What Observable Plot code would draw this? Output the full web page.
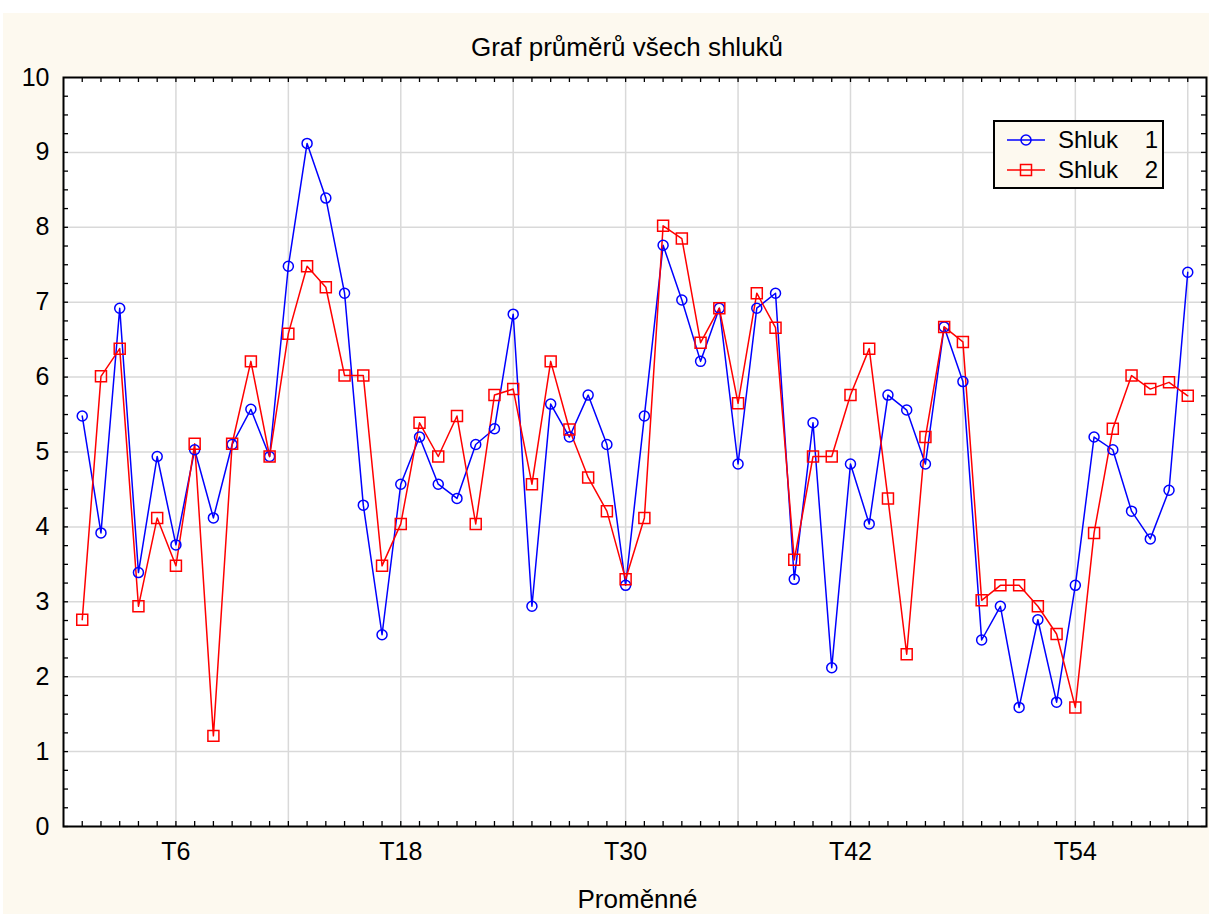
<!DOCTYPE html>
<html>
<head>
<meta charset="utf-8">
<script src="https://cdn.jsdelivr.net/npm/d3@7"></script>
<script src="https://cdn.jsdelivr.net/npm/@observablehq/plot@0.6"></script>
<style>
  body { margin: 0; background: #ffffff; font-family: "Liberation Sans", Arial, sans-serif; }
  #wrap { position: relative; width: 1209px; height: 915px; overflow: hidden; }
  #bg { position: absolute; left: 3px; top: 13px; width: 1206px; height: 901px; background: #fdf9ef; }
  #chart { position: absolute; left: 0; top: 0; }
  #title { position: absolute; left: 0; width: 1254px; top: 34px; text-align: center; font-size: 26px; line-height: 26px; color: #000; white-space: nowrap; }
  #xlabel { position: absolute; left: 0; width: 1275px; top: 886px; text-align: center; font-size: 26px; line-height: 26px; color: #000; white-space: nowrap; }
  #legend { position: absolute; left: 993px; top: 120px; width: 171px; height: 69px; box-sizing: border-box; border: 2.5px solid #000; background: #fdf9ef; }
  .row { position: absolute; left: 0; width: 100%; height: 30px; font-size: 24px; line-height: 30px; color: #000; }
  .row svg { position: absolute; left: 10px; top: 5px; }
  .row .name { position: absolute; left: 63px; top: 0; }
  .row .num { position: absolute; right: 4px; top: 0; }
</style>
</head>
<body>
<div id="wrap">
  <div id="bg"></div>
  <div id="chart"></div>
  <div id="title"></div>
  <div id="xlabel"></div>
  <div id="legend"></div>
</div>
<script>
// ---- data ----
const variables = Array.from({length: 60}, (_, i) => "T" + (i + 1));
const tickLabels = ["T6", "T18", "T30", "T42", "T54"];
const gridLabels = ["T6", "T12", "T18", "T24", "T30", "T36", "T42", "T48", "T54", "T60"];
const yTicks = [0, 1, 2, 3, 4, 5, 6, 7, 8, 9, 10];
const seriesNames = ["Shluk   1", "Shluk   2"];
const seriesColors = ["#0000ff", "#ff0000"];
const titleText = "Graf průměrů všech shluků";
const xLabelText = "Proměnné";

const shluk1 = [5.48, 3.92, 6.92, 3.39, 4.94, 3.76, 5.03, 4.12, 5.10, 5.57,
                4.94, 7.48, 9.12, 8.39, 7.12, 4.29, 2.56, 4.57, 5.20, 4.57,
                4.38, 5.10, 5.31, 6.84, 2.94, 5.64, 5.20, 5.76, 5.10, 3.22,
                5.48, 7.76, 7.03, 6.21, 6.92, 4.84, 6.92, 7.12, 3.30, 5.39,
                2.12, 4.84, 4.04, 5.76, 5.56, 4.84, 6.67, 5.94, 2.49, 2.94,
                1.59, 2.76, 1.66, 3.22, 5.20, 5.03, 4.21, 3.84, 4.49, 7.40];
const shluk2 = [2.76, 6.01, 6.38, 2.94, 4.12, 3.48, 5.11, 1.21, 5.11, 6.21,
                4.94, 6.58, 7.48, 7.20, 6.02, 6.02, 3.48, 4.04, 5.39, 4.94,
                5.48, 4.04, 5.76, 5.84, 4.57, 6.21, 5.30, 4.66, 4.21, 3.30,
                4.12, 8.02, 7.85, 6.46, 6.92, 5.65, 7.12, 6.66, 3.56, 4.94,
                4.94, 5.76, 6.38, 4.38, 2.30, 5.20, 6.67, 6.47, 3.02, 3.22,
                3.22, 2.94, 2.57, 1.59, 3.92, 5.31, 6.02, 5.84, 5.93, 5.75];

// ---- layout ----
const W = 1209, H = 915;
const mL = 63, mR = 3, mT = 77, mB = 89;
const plotW = W - mL - mR, plotH = H - mT - mB;
const tickLen = 5;

const pos = name => variables.indexOf(name) + 1;
const rows1 = variables.map((v, i) => ({i: i + 1, v: shluk1[i]}));
const rows2 = variables.map((v, i) => ({i: i + 1, v: shluk2[i]}));
const minorX = variables.map((v, i) => i + 1);
const minorY = d3.range(0, 40).map(k => k / 4);

const gridStyle = {stroke: "#d9d9d9", strokeOpacity: 1, strokeWidth: 1.5};
const tickStyle = {stroke: "#000", strokeWidth: 1.3};

const chart = Plot.plot({
  width: W, height: H,
  marginLeft: mL, marginRight: mR, marginTop: mT, marginBottom: mB,
  style: {background: "transparent", fontFamily: "'Liberation Sans', Arial, sans-serif", fontSize: "25px", color: "#000"},
  x: {type: "linear", domain: [0, 61]},
  y: {type: "linear", domain: [0, 10]},
  marks: [
    Plot.frame({fill: "#ffffff", stroke: "none"}),
    Plot.ruleX(gridLabels.map(pos), {x: d => d, ...gridStyle}),
    Plot.ruleY(yTicks.slice(1, -1), {y: d => d, ...gridStyle}),
    // inward minor ticks on all four sides
    Plot.ruleX(minorX, {x: d => d, insetTop: plotH - tickLen, ...tickStyle}),
    Plot.ruleX(minorX, {x: d => d, insetBottom: plotH - tickLen, ...tickStyle}),
    Plot.ruleY(minorY, {y: d => d, insetRight: plotW - tickLen, ...tickStyle}),
    Plot.ruleY(minorY, {y: d => d, insetLeft: plotW - tickLen, ...tickStyle}),
    Plot.axisX(tickLabels.map(pos), {anchor: "bottom", tickSize: 0, tickPadding: 16, tickFormat: d => variables[d - 1], label: null, fontSize: 25}),
    Plot.axisY(yTicks, {anchor: "left", tickSize: 0, tickPadding: 14, tickFormat: d => String(d), label: null, fontSize: 25}),
    Plot.line(rows1, {x: "i", y: "v", stroke: seriesColors[0], strokeWidth: 1.5}),
    Plot.line(rows2, {x: "i", y: "v", stroke: seriesColors[1], strokeWidth: 1.5}),
    Plot.dot(rows1, {x: "i", y: "v", symbol: "circle", r: 5, stroke: seriesColors[0], fill: "none", strokeWidth: 1.5}),
    Plot.dot(rows2, {x: "i", y: "v", symbol: "square", r: 6.2, stroke: seriesColors[1], fill: "none", strokeWidth: 1.5}),
    Plot.frame({stroke: "#000", strokeWidth: 2})
  ]
});
document.getElementById("chart").appendChild(chart);
document.getElementById("title").textContent = titleText;
document.getElementById("xlabel").textContent = xLabelText;

// ---- legend ----
const legend = document.getElementById("legend");
seriesNames.forEach((name, k) => {
  const row = document.createElement("div");
  row.className = "row";
  row.style.top = (3 + k * 30) + "px";
  const parts = name.split(/\s+/);
  const marker = k === 0
    ? `<circle cx="21" cy="10" r="5" fill="none" stroke="${seriesColors[k]}" stroke-width="1.5"/>`
    : `<rect x="15.5" y="4.5" width="11" height="11" fill="none" stroke="${seriesColors[k]}" stroke-width="1.5"/>`;
  row.innerHTML = `<svg width="44" height="20"><line x1="2" y1="10" x2="40" y2="10" stroke="${seriesColors[k]}" stroke-width="1.5"/>${marker}</svg>` +
    `<span class="name">${parts[0]}</span><span class="num">${parts[1]}</span>`;
  legend.appendChild(row);
});
</script>
</body>
</html>
